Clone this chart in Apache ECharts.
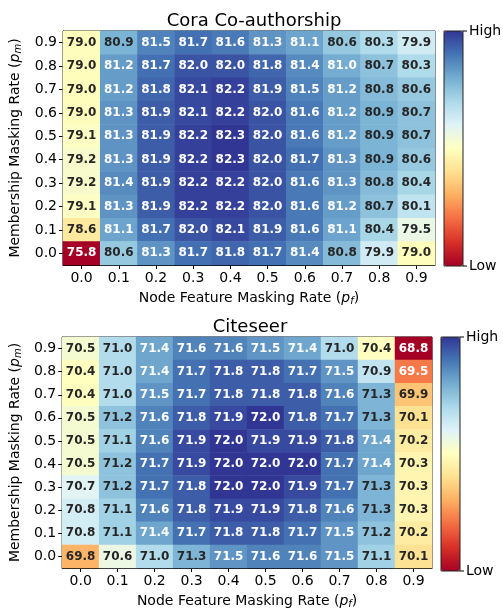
<!DOCTYPE html>
<html>
<head>
<meta charset="utf-8">
<script src="https://cdn.jsdelivr.net/npm/echarts@6/dist/echarts.min.js"></script>
<style>
html,body{margin:0;padding:0;background:#fff;}
#c{width:503px;height:610px;}
</style>
</head>
<body>
<div id="c"></div>
<script>
// Tick labels (x: node feature masking rate, y: membership masking rate)
const ticks = ['0.0','0.1','0.2','0.3','0.4','0.5','0.6','0.7','0.8','0.9'];

// Cora rows: listed from p_m = 0.9 (top) down to 0.0 (bottom); columns p_f 0.0..0.9
const coraRows = [
  [79.0, 80.9, 81.5, 81.7, 81.6, 81.3, 81.1, 80.6, 80.3, 79.9], // 0.9
  [79.0, 81.2, 81.7, 82.0, 82.0, 81.8, 81.4, 81.0, 80.7, 80.3], // 0.8
  [79.0, 81.2, 81.8, 82.1, 82.2, 81.9, 81.5, 81.2, 80.8, 80.6], // 0.7
  [79.0, 81.3, 81.9, 82.1, 82.2, 82.0, 81.6, 81.2, 80.9, 80.7], // 0.6
  [79.1, 81.3, 81.9, 82.2, 82.3, 82.0, 81.6, 81.2, 80.9, 80.7], // 0.5
  [79.2, 81.3, 81.9, 82.2, 82.3, 82.0, 81.7, 81.3, 80.9, 80.6], // 0.4
  [79.2, 81.4, 81.9, 82.2, 82.2, 82.0, 81.6, 81.3, 80.8, 80.4], // 0.3
  [79.1, 81.3, 81.9, 82.2, 82.2, 82.0, 81.6, 81.2, 80.7, 80.1], // 0.2
  [78.6, 81.1, 81.7, 82.0, 82.1, 81.9, 81.6, 81.1, 80.4, 79.5], // 0.1
  [75.8, 80.6, 81.3, 81.7, 81.8, 81.7, 81.4, 80.8, 79.9, 79.0]  // 0.0
];

// Citeseer rows: same layout
const citeRows = [
  [70.5, 71.0, 71.4, 71.6, 71.6, 71.5, 71.4, 71.0, 70.4, 68.8], // 0.9
  [70.4, 71.0, 71.4, 71.7, 71.8, 71.8, 71.7, 71.5, 70.9, 69.5], // 0.8
  [70.4, 71.0, 71.5, 71.7, 71.8, 71.8, 71.8, 71.6, 71.3, 69.9], // 0.7
  [70.5, 71.2, 71.6, 71.8, 71.9, 72.0, 71.8, 71.7, 71.3, 70.1], // 0.6
  [70.5, 71.1, 71.6, 71.9, 72.0, 71.9, 71.9, 71.8, 71.4, 70.2], // 0.5
  [70.5, 71.2, 71.7, 71.9, 72.0, 72.0, 72.0, 71.7, 71.4, 70.3], // 0.4
  [70.7, 71.2, 71.7, 71.8, 72.0, 72.0, 71.9, 71.7, 71.3, 70.3], // 0.3
  [70.8, 71.1, 71.6, 71.8, 71.9, 71.9, 71.8, 71.6, 71.3, 70.3], // 0.2
  [70.8, 71.1, 71.4, 71.7, 71.8, 71.8, 71.7, 71.5, 71.2, 70.2], // 0.1
  [69.8, 70.6, 71.0, 71.3, 71.5, 71.6, 71.6, 71.5, 71.1, 70.1]  // 0.0
];

const RdYlBu = ['#a50026','#d73027','#f46d43','#fdae61','#fee090','#ffffbf','#e0f3f8','#abd9e9','#74add1','#4575b4','#313695'];
const FONT = 'DejaVu Sans';

function build(rows) {
  const flat = rows.flat();
  const mn = Math.min(...flat), mx = Math.max(...flat);
  const data = [];
  rows.forEach((row, r) => {
    const yi = rows.length - 1 - r;
    row.forEach((v, xi) => {
      const n = (v - mn) / (mx - mn);
      const white = n > 0.79 || n < 0.25;
      data.push({ value: [xi, yi, v], label: { color: white ? '#ffffff' : '#262626' } });
    });
  });
  return { data, mn, mx };
}
const cora = build(coraRows);
const cite = build(citeRows);

const grids = [
  { left: 63, top: 31, width: 372, height: 234 },
  { left: 59, top: 337, width: 373, height: 234 }
];
const bars = [
  { left: 444, top: 31, w: 19, h: 235 },
  { left: 441, top: 337, w: 19, h: 234 }
];

const richName = {
  i: { fontFamily: FONT, fontSize: 14, fontStyle: 'italic', color: '#000' },
  s: { fontFamily: FONT, fontSize: 10, fontStyle: 'italic', color: '#000', padding: [6, 0, 0, 0] }
};

function xAxis(gi) {
  return {
    type: 'category', gridIndex: gi, data: ticks,
    position: 'bottom',
    axisLine: { show: true, lineStyle: { color: '#000', width: 1 } },
    axisTick: { show: true, alignWithLabel: true, length: 4, lineStyle: { color: '#000' } },
    axisLabel: { color: '#000', fontFamily: FONT, fontSize: 14, margin: 6 },
    splitLine: { show: false }, splitArea: { show: false },
    name: 'Node Feature Masking Rate ({i|p}{s|f})',
    nameLocation: 'middle', nameGap: 25,
    nameTextStyle: { color: '#000', fontFamily: FONT, fontSize: 14, rich: richName }
  };
}
function yAxis(gi) {
  return {
    type: 'category', gridIndex: gi, data: ticks,
    axisLine: { show: true, lineStyle: { color: '#000', width: 1 } },
    axisTick: { show: true, alignWithLabel: true, length: 4, lineStyle: { color: '#000' } },
    axisLabel: { color: '#000', fontFamily: FONT, fontSize: 14, margin: 6 },
    splitLine: { show: false }, splitArea: { show: false },
    name: 'Membership Masking Rate ({i|p}{s|m})',
    nameLocation: 'middle', nameGap: 33, nameRotate: 90,
    nameTextStyle: { color: '#000', fontFamily: FONT, fontSize: 14, rich: richName }
  };
}

function series(gi, d) {
  return {
    type: 'heatmap', xAxisIndex: gi, yAxisIndex: gi, data: d.data,
    label: { show: true, fontFamily: FONT, fontSize: 12, fontWeight: 'bold',
      formatter: p => p.value[2].toFixed(1) },
    itemStyle: { borderWidth: 0 },
    emphasis: { disabled: true }
  };
}

function vm(gi, d) {
  return {
    type: 'continuous', seriesIndex: gi, min: d.mn, max: d.mx,
    calculable: false, show: true, orient: 'vertical',
    left: bars[gi].left, top: bars[gi].top,
    itemWidth: bars[gi].w, itemHeight: bars[gi].h, padding: 0,
    text: null, showLabel: false,
    inRange: { color: RdYlBu }
  };
}

function barDecor(b) {
  const x2 = b.left + b.w;
  return [
    { type: 'rect', shape: { x: b.left, y: b.top, width: b.w, height: b.h },
      style: { fill: 'none', stroke: '#222', lineWidth: 1 }, z: 100 },
    { type: 'line', shape: { x1: x2, y1: b.top, x2: x2 + 4, y2: b.top }, style: { stroke: '#000', lineWidth: 1 }, z: 100 },
    { type: 'line', shape: { x1: x2, y1: b.top + b.h, x2: x2 + 4, y2: b.top + b.h }, style: { stroke: '#000', lineWidth: 1 }, z: 100 },
    { type: 'text', x: x2 + 6, y: b.top, style: { text: 'High', fill: '#000', font: '14px "DejaVu Sans"', textVerticalAlign: 'middle', verticalAlign: 'middle' }, z: 100 },
    { type: 'text', x: x2 + 6, y: b.top + b.h, style: { text: 'Low', fill: '#000', font: '14px "DejaVu Sans"', textVerticalAlign: 'middle', verticalAlign: 'middle' }, z: 100 }
  ];
}

const chart = echarts.init(document.getElementById('c'), null, { renderer: 'canvas' });
chart.setOption({
  backgroundColor: '#fff',
  animation: false,
  title: [
    { text: 'Cora Co-authorship', left: 249, top: 7, textAlign: 'center',
      textStyle: { fontFamily: FONT, fontSize: 18, fontWeight: 'normal', color: '#000' } },
    { text: 'Citeseer', left: 245, top: 313, textAlign: 'center',
      textStyle: { fontFamily: FONT, fontSize: 18, fontWeight: 'normal', color: '#000' } }
  ],
  grid: grids.map(g => Object.assign({ show: true, borderColor: '#000', borderWidth: 1, backgroundColor: 'transparent' }, g)),
  xAxis: [xAxis(0), xAxis(1)],
  yAxis: [yAxis(0), yAxis(1)],
  visualMap: [vm(0, cora), vm(1, cite)],
  series: [series(0, cora), series(1, cite)],
  graphic: [...barDecor(bars[0]), ...barDecor(bars[1])]
});
</script>
</body>
</html>
